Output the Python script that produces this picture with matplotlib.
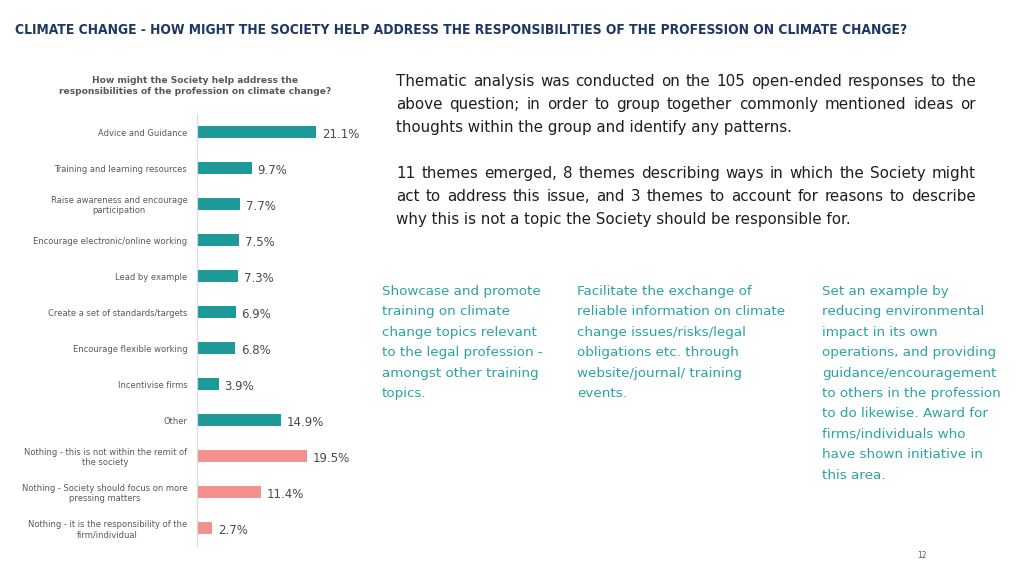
import matplotlib
matplotlib.use("Agg")
import matplotlib.pyplot as plt
from matplotlib import font_manager

# --- donnees ---
categories = [
    "Advice and Guidance",
    "Training and learning resources",
    "Raise awareness and encourage\nparticipation",
    "Encourage electronic/online working",
    "Lead by example",
    "Create a set of standards/targets",
    "Encourage flexible working",
    "Incentivise firms",
    "Other",
    "Nothing - this is not within the remit of\nthe society",
    "Nothing - Society should focus on more\npressing matters",
    "Nothing - it is the responsibility of the\nfirm/individual",
]
values = [21.1, 9.7, 7.7, 7.5, 7.3, 6.9, 6.8, 3.9, 14.9, 19.5, 11.4, 2.7]
is_nothing = [False] * 9 + [True] * 3

page_title = ("CLIMATE CHANGE - HOW MIGHT THE SOCIETY HELP ADDRESS THE "
              "RESPONSIBILITIES OF THE PROFESSION ON CLIMATE CHANGE?")
chart_title = ("How might the Society help address the\n"
               "responsibilities of the profession on climate change?")

para1 = [
    "Thematic analysis was conducted on the 105 open-ended responses to the",
    "above question; in order to group together commonly mentioned ideas or",
    "thoughts within the group and identify any patterns.",
]
para2 = [
    "11 themes emerged, 8 themes describing ways in which the Society might",
    "act to address this issue, and 3 themes to account for reasons to describe",
    "why this is not a topic the Society should be responsible for.",
]
col1 = ["Showcase and promote", "training on climate", "change topics relevant",
        "to the legal profession -", "amongst other training", "topics."]
col2 = ["Facilitate the exchange of", "reliable information on climate",
        "change issues/risks/legal", "obligations etc. through",
        "website/journal/ training", "events."]
col3 = ["Set an example by", "reducing environmental", "impact in its own",
        "operations, and providing", "guidance/encouragement",
        "to others in the profession", "to do likewise. Award for",
        "firms/individuals who", "have shown initiative in", "this area."]

TEAL = "#1E9A9A"
PINK = "#F4918C"
NAVY = "#1F3864"
GREY = "#595959"
TEXT_TEAL = "#2BA3A3"

W, H = 1024, 576
plt.rcParams['font.family'] = ['DejaVu Sans']

fig = plt.figure(figsize=(W / 100, H / 100), dpi=100)
fig.patch.set_facecolor("white")


def px(x, y):
    return x / W, 1 - y / H


# --- titre de la page (police etroite si disponible) ---
noms = {f.name for f in font_manager.fontManager.ttflist}
if "Liberation Sans Narrow" in noms:
    titre_kw = dict(family=["Liberation Sans Narrow", "DejaVu Sans"], fontweight="bold")
else:
    titre_kw = dict(family=["DejaVu Sans"], fontweight="bold", fontstretch="condensed")
t = fig.text(*px(15, 30), page_title, color=NAVY, fontsize=12.5,
             va="center", ha="left", **titre_kw)

# --- graphique en barres ---
left, right = 197, 197 + 5.64 * 30
top, bottom = 114, 546
ax = fig.add_axes([left / W, 1 - bottom / H, (right - left) / W, (bottom - top) / H])
y = list(range(len(values)))
colors = [PINK if n else TEAL for n in is_nothing]
ax.barh(y, values, height=0.36, color=colors)
ax.set_xlim(0, 30)
ax.set_ylim(len(values) - 0.5, -0.5)
ax.set_yticks(y)
ax.set_yticklabels(categories, fontsize=6, color=GREY)
for lbl in ax.get_yticklabels():
    lbl.set_multialignment("center")
ax.tick_params(axis="y", length=0, pad=7)
ax.set_xticks([])
for s in ["top", "right", "bottom"]:
    ax.spines[s].set_visible(False)
ax.spines["left"].set_color("#D9D9D9")
ax.patch.set_alpha(0)
for yi, v in zip(y, values):
    ax.text(v + 1.0, yi + 0.08, f"{v}%", va="center", ha="left",
            fontsize=8.5, color="#4a4a4a")

fig.text(*px(195, 86), chart_title, ha="center", va="center",
         fontsize=6.6, fontweight="bold", color=GREY, linespacing=1.4)

# --- texte justifie ---
renderer = fig.canvas.get_renderer()


def justified(lines, x0, x1, y0, dy, **kw):
    for i, line in enumerate(lines):
        yb = y0 + i * dy
        words = line.split()
        if i == len(lines) - 1:
            fig.text(*px(x0, yb), line, va="baseline", ha="left", **kw)
            continue
        objs = [fig.text(0, 0, w, va="baseline", ha="left", **kw) for w in words]
        widths = [o.get_window_extent(renderer).width for o in objs]
        gap = (x1 - x0 - sum(widths)) / (len(words) - 1)
        x = x0
        for o, wd in zip(objs, widths):
            o.set_position(px(x, yb))
            x += wd + gap


body = dict(fontsize=10.9, color="#1f1f1f")
justified(para1, 396, 976, 86, 23, **body)
justified(para2, 396, 976, 178, 23, **body)

small = dict(fontsize=9.7, color=TEXT_TEAL)
for xc, lines in [(382, col1), (577, col2), (822, col3)]:
    for i, line in enumerate(lines):
        fig.text(*px(xc, 295 + i * 20.4), line, va="baseline", ha="left", **small)

fig.text(*px(922, 556), "12", fontsize=5.5, color=GREY, ha="center", va="center")

# ajuster la largeur du titre
bb = t.get_window_extent(renderer)
t.set_fontsize(12.5 * 890 / bb.width)

fig.savefig("out.png", dpi=100)
